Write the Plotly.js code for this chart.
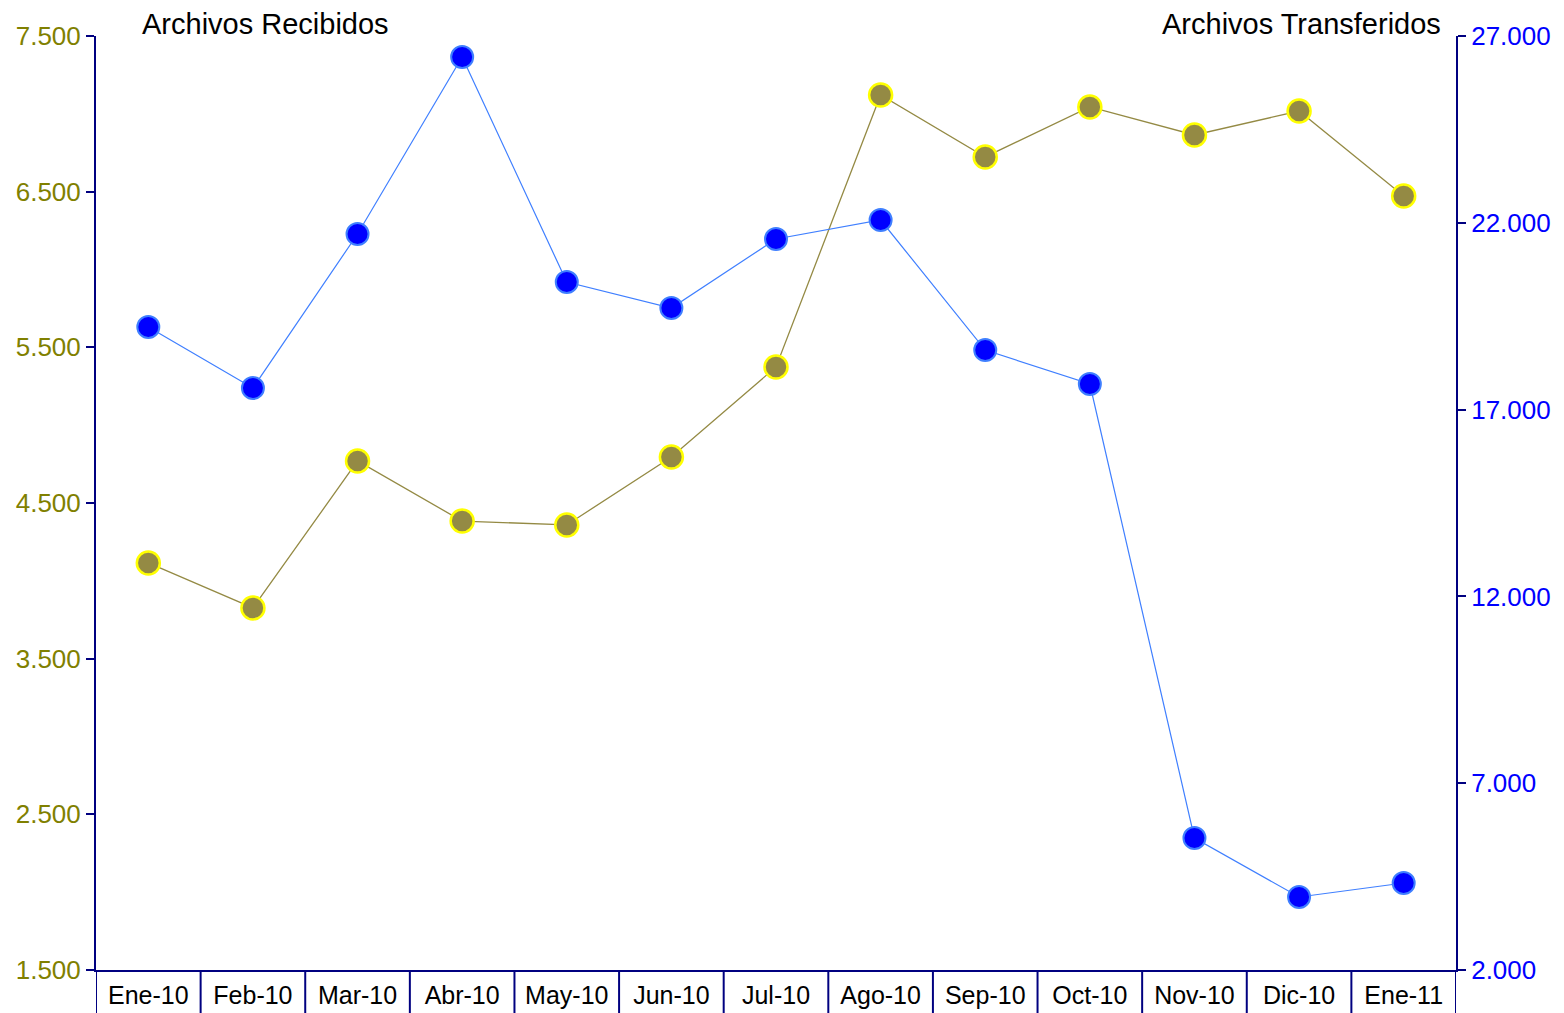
<!DOCTYPE html>
<html>
<head>
<meta charset="utf-8">
<script src="https://cdn.plot.ly/plotly-3.0.1.min.js"></script>
<style>html,body{margin:0;padding:0;background:#fff;}#chart{width:1564px;height:1013px;}</style>
</head>
<body>
<div id="chart"></div>
<script>
const months = ["Ene-10","Feb-10","Mar-10","Abr-10","May-10","Jun-10","Jul-10","Ago-10","Sep-10","Oct-10","Nov-10","Dic-10","Ene-11"];
const recibidos = [4115, 3826, 4770, 4384, 4359, 4796, 5374, 7121, 6723, 7044, 6864, 7018, 6472];
const transferidos = [19211, 17578, 21700, 26438, 20415, 19719, 21566, 22075, 18595, 17685, 5533, 3954, 4329];
const leftTitle = "Archivos Recibidos";
const rightTitle = "Archivos Transferidos";

const navy = "#000080";

// category separators below the x axis (drawn on the x scale at each boundary)
const separators = [];
for (let i = 0; i <= months.length; i++) {
  separators.push({
    type: "line", xref: "x", yref: "paper", x0: i - 0.5, x1: i - 0.5, y0: 0, y1: -0.06,
    line: {color: navy, width: 2}, layer: "above"
  });
}

const traces = [
  {
    x: months, y: recibidos, name: leftTitle, type: "scatter", mode: "lines+markers",
    xaxis: "x", yaxis: "y",
    line: {color: "#948A44", width: 1.3},
    marker: {size: 23, color: "#948A44", line: {color: "#FFFF00", width: 2.5}}
  },
  {
    x: months, y: transferidos, name: rightTitle, type: "scatter", mode: "lines+markers",
    xaxis: "x", yaxis: "y2",
    line: {color: "#3F7FFF", width: 1.2},
    marker: {size: 22, color: "#0000FF", line: {color: "#3F7FFF", width: 2}}
  }
];

const layout = {
  width: 1564, height: 1013,
  margin: {l: 96, r: 108, t: 36, b: 43, pad: 0},
  paper_bgcolor: "#fff", plot_bgcolor: "#fff",
  showlegend: false,
  separators: ",.",
  font: {family: "Liberation Sans, Arial, sans-serif", color: "#000"},
  xaxis: {
    type: "category", range: [-0.5, months.length - 0.5],
    showgrid: false, zeroline: false, showline: true, linecolor: navy, linewidth: 2,
    ticks: "outside", ticklen: 2, tickcolor: "rgba(0,0,0,0)",
    tickfont: {size: 25, color: "#000"}
  },
  yaxis: {
    range: [1500, 7500], dtick: 1000, tick0: 1500, tickformat: ",d",
    showgrid: false, zeroline: false, showline: true, linecolor: navy, linewidth: 2,
    ticks: "outside", ticklen: 8, tickwidth: 2, tickcolor: navy,
    tickfont: {size: 26, color: "#808000"}
  },
  yaxis2: {
    overlaying: "y", side: "right", anchor: "x",
    range: [2000, 27000], dtick: 5000, tick0: 2000, tickformat: ",d",
    showgrid: false, zeroline: false, showline: true, linecolor: navy, linewidth: 2,
    ticks: "outside", ticklen: 8, tickwidth: 2, tickcolor: navy,
    tickfont: {size: 26, color: "#0000FF"}
  },
  shapes: separators,
  annotations: [
    {text: leftTitle, xref: "paper", yref: "paper", x: 0.0324, y: 1, yshift: 12, xanchor: "left", yanchor: "middle",
     showarrow: false, font: {size: 29, color: "#000"}},
    {text: rightTitle, xref: "paper", yref: "paper", x: 0.9904, y: 1, yshift: 12, xanchor: "right", yanchor: "middle",
     showarrow: false, font: {size: 29, color: "#000"}}
  ]
};

Plotly.newPlot("chart", traces, layout, {displayModeBar: false, staticPlot: true});
</script>
</body>
</html>
